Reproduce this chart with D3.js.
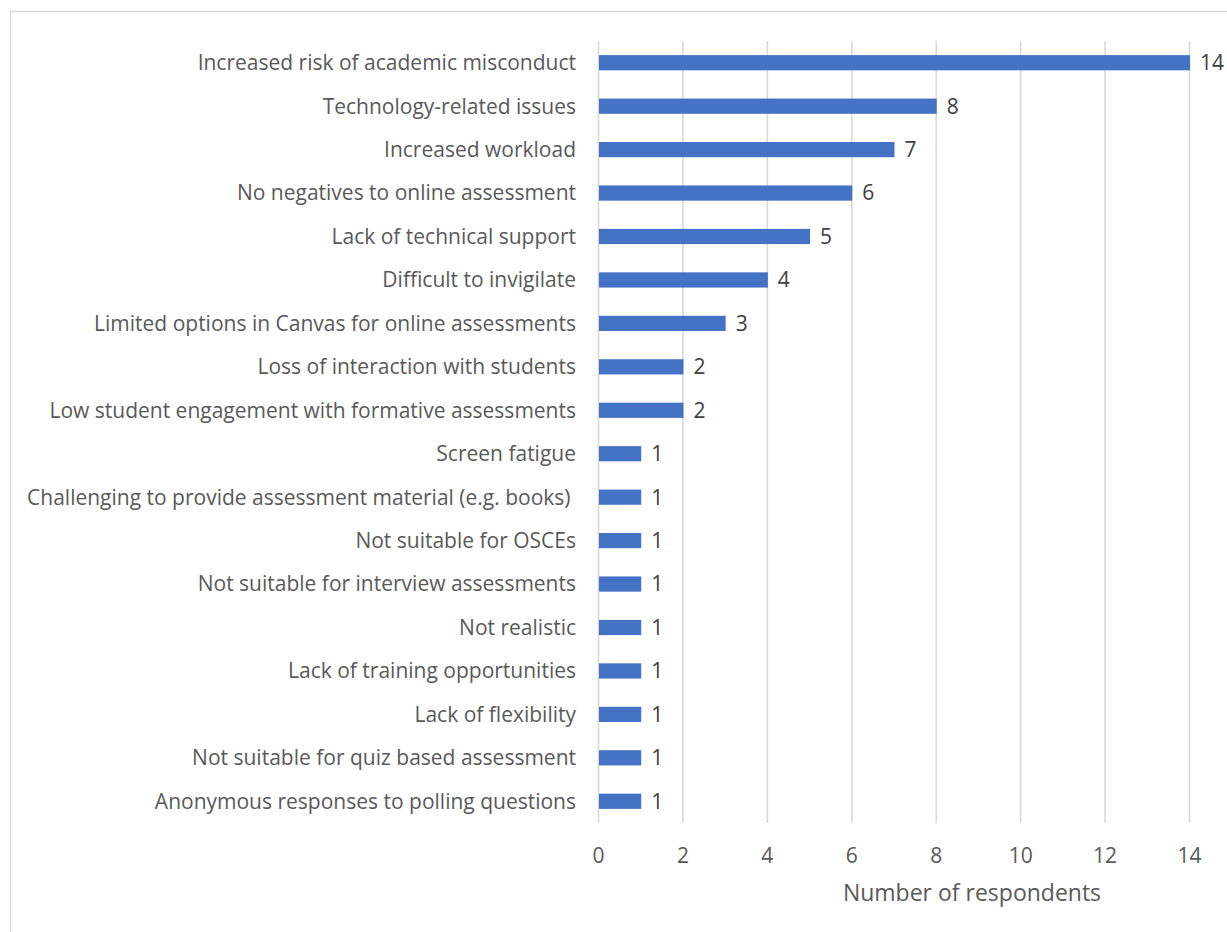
<!DOCTYPE html>
<html><head><meta charset="utf-8">
<script src="https://cdn.jsdelivr.net/npm/d3@7"></script>
<style>
html,body{margin:0;padding:0;background:#fff;}
svg{display:block;}
text{font-family:"Open Sans",sans-serif;white-space:pre;}
</style></head>
<body><svg id="chart" width="1227" height="932"></svg>
<script>
const categories = [
  "Increased risk of academic misconduct",
  "Technology-related issues",
  "Increased workload",
  "No negatives to online assessment",
  "Lack of technical support",
  "Difficult to invigilate",
  "Limited options in Canvas for online assessments",
  "Loss of interaction with students",
  "Low student engagement with formative assessments",
  "Screen fatigue",
  "Challenging to provide assessment material (e.g. books) ",
  "Not suitable for OSCEs",
  "Not suitable for interview assessments",
  "Not realistic",
  "Lack of training opportunities",
  "Lack of flexibility",
  "Not suitable for quiz based assessment",
  "Anonymous responses to polling questions"
];
const values = [14, 8, 7, 6, 5, 4, 3, 2, 2, 1, 1, 1, 1, 1, 1, 1, 1, 1];
const xTicks = [0, 2, 4, 6, 8, 10, 12, 14];
const xTitle = "Number of respondents";

const svg = d3.select("#chart");
svg.append("rect").attr("x", 10.5).attr("y", 11.5).attr("width", 1240).attr("height", 940)
  .attr("fill", "#fff").attr("stroke", "#d9d9d9").attr("stroke-width", 1.5);

const x = d3.scaleLinear().domain([0, 14]).range([598, 1189]);
const y = d3.scaleBand().domain(categories).range([41, 823]).paddingInner(0.65).paddingOuter(0.325);

// gridlines
svg.append("g").selectAll("line").data(xTicks).join("line")
  .attr("x1", d => x(d) + 0.5).attr("x2", d => x(d) + 0.5)
  .attr("y1", 41).attr("y2", 823)
  .attr("stroke", "#d9d9d9").attr("stroke-width", 1.6);

// x axis labels
const xAxis = d3.axisBottom(x).tickValues(xTicks).tickSize(0).tickPadding(0);
const gx = svg.append("g").attr("transform", "translate(0,856)").call(xAxis);
gx.select(".domain").remove();
gx.selectAll("text").attr("fill", "#595959").attr("font-size", 21)
  .attr("font-family", "\"Open Sans\",sans-serif").attr("dy", "0.35em");

// y axis labels
const yAxis = d3.axisLeft(y).tickSize(0).tickPadding(0);
const gy = svg.append("g").attr("transform", "translate(576,0)").call(yAxis);
gy.select(".domain").remove();
gy.selectAll("text").attr("fill", "#595959").attr("font-size", 21)
  .attr("font-family", "\"Open Sans\",sans-serif").attr("dy", "0.35em");

// bars
svg.append("g").selectAll("rect").data(values).join("rect")
  .attr("x", x(0) + 1).attr("y", (d, i) => y(categories[i]))
  .attr("width", d => x(d) - x(0)).attr("height", y.bandwidth())
  .attr("fill", "#4472c4");

// value labels
svg.append("g").selectAll("text").data(values).join("text")
  .attr("x", d => x(d) + 11).attr("y", (d, i) => y(categories[i]) + y.bandwidth() / 2)
  .attr("dy", "0.35em").attr("fill", "#404040").attr("font-size", 21)
  .text(d => d);

svg.append("text").attr("x", 972).attr("y", 893).attr("dy", "0.35em").attr("text-anchor", "middle")
  .attr("fill", "#595959").attr("font-size", 23).text(xTitle);
</script></body></html>
